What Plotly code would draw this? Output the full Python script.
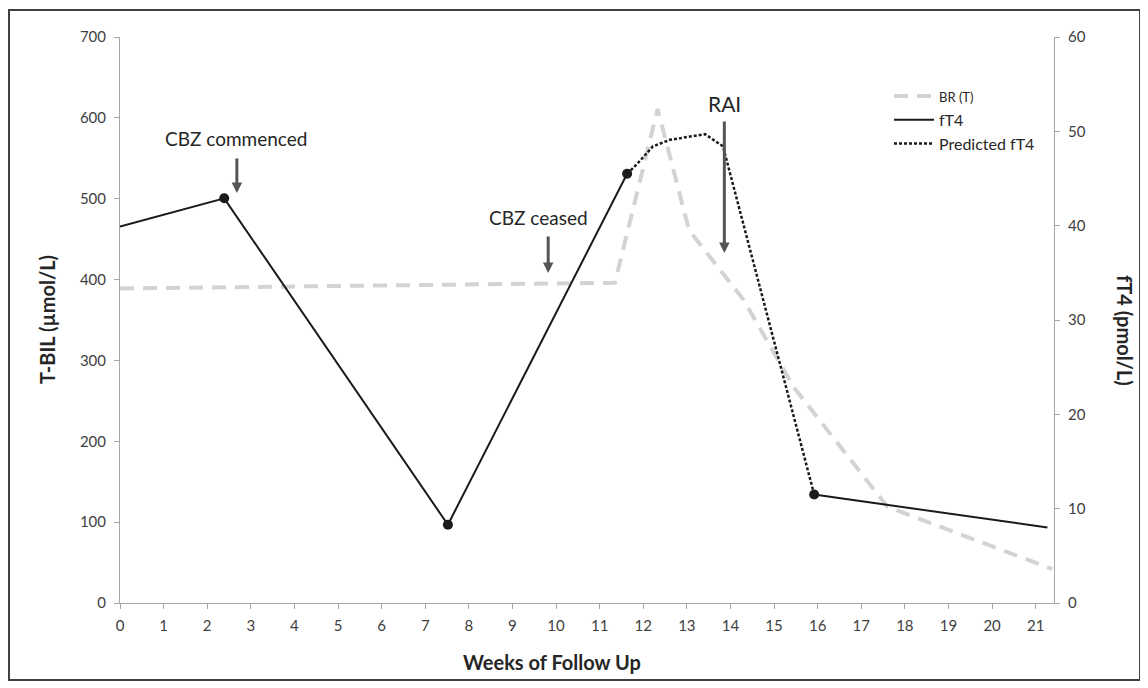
import plotly.graph_objects as go

# ---- data ----
weeks_br = [0, 11.35, 12.33, 13.05, 14.3, 15.45, 17.6, 21.38]
tbil_br = [389, 396, 611, 461, 375, 267, 119, 42]

weeks_ft4 = [0, 2.39, 7.52, 11.63, None, 15.92, 21.27]
ft4 = [39.9, 42.9, 8.3, 45.5, None, 11.5, 8.0]

weeks_marker = [2.39, 7.52, 11.63, 15.92]
ft4_marker = [42.9, 8.3, 45.5, 11.5]

weeks_pred = [11.63, 11.85, 12.22, 12.61, 13.42, 13.83, 15.92]
ft4_pred = [45.5, 46.5, 48.4, 49.1, 49.7, 48.4, 11.5]

x_ticks = list(range(0, 22))
left_ticks = [0, 100, 200, 300, 400, 500, 600, 700]
right_ticks = [0, 10, 20, 30, 40, 50, 60]

series_names = ["BR (T)", "fT4", "Predicted fT4"]

# annotations: (text, x week, y T-BIL, size)
labels = [("CBZ commenced", 2.65, 574, 19), ("CBZ ceased", 9.6, 477, 19), ("RAI", 13.86, 618, 21)]
# arrows: (x week tip, y T-BIL tip, tail offset px)
arrows = [(2.68, 507, -36), (9.82, 408, -38), (13.86, 433, -133)]

FONT = "Lato"
TXT = "#262626"
AX = "#a6a6a6"

# page has an 8px body margin; figure is placed at (8, 8)
W, H = 1140, 680
PL, PR, PT, PB = 112, 94, 29, 85          # plot area in figure px
PW, PH = W - PL - PR, H - PT - PB


def px(xp):   # page x pixel -> paper
    return (xp - 8 - PL) / PW


def py(yp):   # page y pixel -> paper
    return (H - PB - (yp - 8)) / PH


fig = go.Figure()

fig.add_trace(go.Scatter(
    x=weeks_br, y=tbil_br, mode="lines", name='<span style="font-size:13px">' + series_names[0] + '</span>',
    line=dict(color="#d3d3d3", width=4, dash="14px,9px"), yaxis="y", legendgroup="a"))

fig.add_trace(go.Scatter(
    x=weeks_ft4, y=ft4, mode="lines", name='<span style="font-size:16px">' + series_names[1] + '</span>',
    line=dict(color="#1a1a1a", width=2), yaxis="y2", connectgaps=False, legendgroup="b"))

fig.add_trace(go.Scatter(
    x=weeks_pred, y=ft4_pred, mode="lines", name=series_names[2],
    line=dict(color="#1a1a1a", width=2.5, dash="3px,2px"), yaxis="y2", legendgroup="c"))

fig.add_trace(go.Scatter(
    x=weeks_marker, y=ft4_marker, mode="markers", showlegend=False,
    marker=dict(color="#1a1a1a", size=10), yaxis="y2"))

axis_common = dict(showgrid=False, zeroline=False, showline=True, linecolor=AX, linewidth=1,
                   ticks="outside", ticklen=5, tickcolor=AX,
                   tickfont=dict(family=FONT, size=15, color="#404040"))

fig.update_layout(
    width=W, height=H,
    margin=dict(l=PL, r=PR, t=PT, b=PB),
    paper_bgcolor="white", plot_bgcolor="white",
    font=dict(family=FONT, color=TXT),
    xaxis=dict(range=[0, 21.42], tickvals=x_ticks, ticklabelstandoff=4, **axis_common),
    yaxis=dict(range=[0, 700], tickvals=left_ticks, ticklabelstandoff=5, **axis_common),
    yaxis2=dict(range=[0, 60], tickvals=right_ticks, overlaying="y", side="right", anchor="x",
                ticklabelstandoff=5, **axis_common),
    legend=dict(x=px(889), y=py(79), xanchor="left", yanchor="top",
                bgcolor="rgba(0,0,0,0)", font=dict(family=FONT, size=16, color=TXT),
                itemwidth=40, tracegroupgap=0),
    showlegend=True,
)

annots = []
for txt, xw, yv, sz in labels:
    annots.append(dict(text=txt, x=xw, y=yv, xref="x", yref="y", showarrow=False,
                       xanchor="center", yanchor="middle",
                       font=dict(family=FONT, size=sz, color=TXT)))
for xw, yv, off in arrows:
    annots.append(dict(text="", x=xw, y=yv, xref="x", yref="y", showarrow=True,
                       ax=0, ay=off, arrowhead=2, arrowsize=0.7, arrowwidth=3,
                       arrowcolor="#555555", standoff=0))

# axis titles
annots.append(dict(text="<b>Weeks of Follow Up</b>", x=px(552), y=py(662),
                   xref="paper", yref="paper", showarrow=False, xanchor="center", yanchor="middle",
                   font=dict(family=FONT, size=20, color=TXT)))
annots.append(dict(text="<b>T-BIL (µmol/L)</b>", x=px(47), y=py(320), textangle=-90,
                   xref="paper", yref="paper", showarrow=False, xanchor="center", yanchor="middle",
                   font=dict(family=FONT, size=20, color=TXT)))
annots.append(dict(text="<b>fT4 (pmol/L)</b>", x=px(1125), y=py(330), textangle=90,
                   xref="paper", yref="paper", showarrow=False, xanchor="center", yanchor="middle",
                   font=dict(family=FONT, size=20, color=TXT)))
fig.update_layout(annotations=annots)

# outer chart border
fig.add_shape(type="rect", xref="paper", yref="paper",
              x0=px(9), x1=px(1140), y0=py(680), y1=py(10),
              line=dict(color="#404040", width=2), fillcolor="rgba(0,0,0,0)", layer="below")

fig.write_html("out.html")
